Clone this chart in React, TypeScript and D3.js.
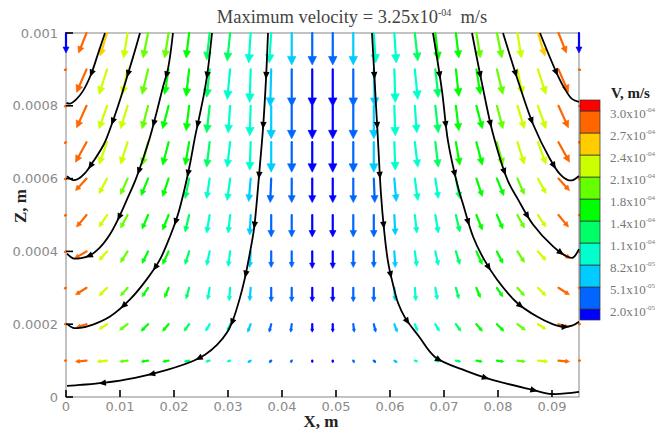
import React from 'react';
import * as d3 from 'd3';

// ---------- data ----------
const xTicks = [0, 0.01, 0.02, 0.03, 0.04, 0.05, 0.06, 0.07, 0.08, 0.09];
const xTickLabels = ['0', '0.01', '0.02', '0.03', '0.04', '0.05', '0.06', '0.07', '0.08', '0.09'];
const zTicks = [0, 0.0002, 0.0004, 0.0006, 0.0008, 0.001];
const zTickLabels = ['0', '0.0002', '0.0004', '0.0006', '0.0008', '0.001'];

const gridX = [0, 0.0038, 0.0076, 0.0114, 0.0152, 0.019, 0.0228, 0.0266, 0.0304, 0.0342, 0.038, 0.0418, 0.0456,
  0.0494, 0.0532, 0.057, 0.0608, 0.0646, 0.0684, 0.0722, 0.076, 0.0798, 0.0836, 0.0874, 0.0912, 0.095];
const gridZ = [0.001, 0.0009, 0.0008, 0.0007, 0.0006, 0.0005, 0.0004, 0.0003, 0.0002, 0.0001];

// arrow components (display units), one row per gridZ
const arrowU = [
  [0, -8, -7, -4, -5, -4, -3, -3, -3, -2, -2, 0, 0, 0, 0, 2, 2, 3, 3, 3, 4, 5, 4, 7, 8, 0],
  [-2, -10, -8, -5, -6, -4, -3, -3, -3, -1, -1, 0, 0, 0, 0, 1, 1, 3, 3, 3, 4, 6, 5, 8, 10, 2],
  [-2, -10, -8, -7, -6, -6, -3, -3, -2, -1, 0, 0, 0, 0, 0, 0, 1, 2, 3, 3, 6, 6, 7, 8, 10, 2],
  [-2, -11, -8, -7, -6, -6, -4, -3, -3, -1, 0, 0, 0, 0, 0, 0, 1, 3, 3, 4, 6, 6, 7, 8, 11, 2],
  [-2, -11, -8, -7, -7, -6, -4, -3, -3, -2, -1, 0, 0, 0, 0, 1, 2, 3, 3, 4, 6, 7, 7, 8, 11, 2],
  [-2, -10, -8, -7, -6, -6, -4, -3, -2, -1, 0, 0, 0, 0, 0, 0, 1, 2, 3, 4, 6, 6, 7, 8, 10, 2],
  [-2, -12, -8, -7, -6, -6, -4, -3, -2, -1, 0, 0, 0, 0, 0, 0, 1, 2, 3, 4, 6, 6, 7, 8, 12, 2],
  [-2, -11, -8, -7, -6, -4, -3, -2, -1, -1, 0, 0, 0, 0, 0, 0, 1, 1, 2, 3, 4, 6, 7, 8, 11, 2],
  [-2, -10, -8, -8, -7, -6, -5, -4, -3, -3, -2, -1, 0, 0, 1, 2, 3, 3, 4, 5, 6, 7, 8, 8, 10, 2],
  [-2, -11, -10, -8, -7, -6, -5, -4, -3, -3, -2, -1, 0, 0, 1, 2, 3, 3, 4, 5, 6, 7, 8, 10, 11, 2],
];
const arrowW = [
  [-20, -20, -23, -25, -25, -25, -25, -27, -28, -30, -30, -32, -32, -32, -32, -30, -30, -28, -27, -25, -25, -25, -25, -23, -20, -20],
  [-1, -23, -25, -25, -25, -25, -27, -28, -30, -33, -37, -37, -37, -37, -37, -37, -33, -30, -28, -27, -25, -25, -25, -25, -23, -1],
  [-1, -22, -23, -23, -23, -23, -25, -27, -27, -30, -33, -33, -33, -33, -33, -33, -30, -27, -27, -25, -23, -23, -23, -23, -22, -1],
  [-1, -20, -22, -22, -23, -23, -23, -25, -25, -28, -30, -30, -30, -30, -30, -30, -28, -25, -25, -23, -23, -23, -22, -22, -20, -1],
  [-1, -12, -15, -16, -17, -18, -20, -20, -22, -23, -24, -24, -24, -24, -24, -24, -23, -22, -20, -20, -18, -17, -16, -15, -12, -1],
  [-1, -12, -12, -13, -14, -15, -17, -18, -18, -20, -22, -22, -22, -22, -22, -22, -20, -18, -18, -17, -15, -14, -13, -12, -12, -1],
  [-1, -7, -9, -11, -12, -13, -13, -14, -15, -16, -16, -16, -17, -17, -16, -16, -16, -15, -14, -13, -13, -12, -11, -9, -7, -1],
  [-1, -7, -8, -8, -9, -10, -11, -12, -13, -13, -14, -14, -14, -14, -14, -14, -13, -13, -12, -11, -10, -9, -8, -8, -7, -1],
  [0, -3, -5, -6, -7, -7, -7, -7, -7, -8, -8, -8, -8, -8, -8, -8, -8, -7, -7, -7, -7, -7, -6, -5, -3, 0],
  [0, -1, -1, -1, -1, -1, -1, -1, -1, -2, -2, -2, -2, -2, -2, -2, -2, -1, -1, -1, -1, -1, -1, -1, -1, 0],
];
// colour level (index into levelColors) per arrow
const arrowLevel = [
  [0, 9, 8, 7, 6, 6, 5, 4, 4, 3, 3, 2, 1, 1, 2, 3, 3, 4, 5, 5, 6, 6, 7, 8, 9, 0],
  [9, 9, 7, 7, 6, 5, 5, 4, 3, 3, 2, 1, 0, 0, 1, 2, 3, 3, 4, 5, 5, 6, 7, 7, 9, 9],
  [9, 9, 7, 7, 6, 5, 5, 4, 3, 3, 2, 1, 0, 0, 1, 2, 3, 3, 4, 5, 5, 6, 7, 7, 9, 9],
  [9, 9, 7, 7, 6, 5, 5, 4, 3, 3, 2, 1, 0, 0, 1, 2, 3, 3, 4, 5, 5, 6, 7, 7, 9, 9],
  [9, 9, 7, 6, 5, 5, 4, 3, 3, 2, 1, 1, 0, 0, 1, 1, 2, 3, 3, 4, 5, 5, 6, 7, 9, 9],
  [9, 9, 7, 6, 5, 5, 4, 3, 3, 2, 1, 1, 0, 0, 1, 1, 2, 3, 3, 4, 5, 5, 6, 7, 9, 9],
  [9, 9, 7, 6, 5, 5, 4, 3, 3, 2, 1, 1, 0, 0, 1, 1, 2, 3, 3, 4, 5, 5, 6, 7, 9, 9],
  [9, 9, 7, 6, 5, 5, 4, 3, 3, 2, 1, 1, 0, 0, 1, 1, 2, 3, 3, 4, 5, 5, 6, 7, 9, 9],
  [9, 9, 7, 6, 5, 5, 4, 3, 3, 2, 1, 1, 0, 0, 1, 1, 2, 3, 3, 4, 5, 5, 6, 7, 9, 9],
  [9, 9, 7, 6, 5, 5, 4, 3, 3, 2, 1, 1, 0, 0, 1, 1, 2, 3, 3, 4, 5, 5, 6, 7, 9, 9],
];
const levelColors = ['#0000ff', '#0066ff', '#00ccff', '#00ffcc', '#00ff66', '#00ff00', '#66ff00', '#ccff00', '#ffcc00', '#ff6600', '#ff0000'];

const legendMantissa = ['2.0', '5.1', '8.2', '1.1', '1.4', '1.8', '2.1', '2.4', '2.7', '3.0'];
const legendExponent = ['-05', '-05', '-05', '-04', '-04', '-04', '-04', '-04', '-04', '-04'];

// streamlines [x, z], listed in flow direction
const streamS1 = [[0.00722, 0.001], [0.00593, 0.000943], [0.00463, 0.000886], [0.00315, 0.000841], [0.00185, 0.000817], [0.00074, 0.000806], [0.0001, 0.000808]];
const streamS2 = [[0.0137, 0.001], [0.0126, 0.000943], [0.01148, 0.000888], [0.01019, 0.000825], [0.0087, 0.000759], [0.00704, 0.000695], [0.005, 0.000646], [0.00352, 0.000615], [0.00222, 0.000599], [0.0013, 0.000596], [0.00019, 0.000607]];
const streamS3 = [[0.01981, 0.001], [0.01889, 0.000902], [0.01796, 0.000852], [0.01685, 0.000786], [0.01556, 0.000714], [0.01426, 0.000654], [0.01278, 0.000593], [0.0113, 0.000543], [0.00963, 0.000488], [0.00815, 0.000447], [0.0063, 0.000411], [0.00444, 0.000389], [0.00259, 0.000381], [0.0013, 0.000381], [0.00019, 0.000394]];
const streamS4 = [[0.02704, 0.001], [0.0263, 0.000902], [0.02574, 0.000847], [0.02481, 0.000778], [0.02389, 0.000714], [0.02296, 0.00064], [0.02204, 0.000577], [0.02074, 0.000502], [0.01926, 0.000441], [0.01741, 0.000378], [0.01519, 0.000328], [0.01185, 0.000268], [0.00815, 0.000221], [0.005, 0.000199], [0.00259, 0.00019], [0.0013, 0.00019], [0.00019, 0.000201]];
const streamS5 = [[0.03741, 0.001], [0.03704, 0.000874], [0.03648, 0.000737], [0.03593, 0.00064], [0.03537, 0.000543], [0.03481, 0.000461], [0.03407, 0.000397], [0.03315, 0.000328], [0.03222, 0.000273], [0.03093, 0.000212], [0.02981, 0.000177], [0.02796, 0.000143], [0.02574, 0.000116], [0.02352, 0.000099], [0.0187, 0.0000745], [0.01278, 0.0000524], [0.00685, 0.0000386], [0.00259, 0.0000331], [0.00019, 0.0000303]];
const streamR5 = [[0.05667, 0.001], [0.05722, 0.000852], [0.05778, 0.000703], [0.05833, 0.000557], [0.05889, 0.000461], [0.05963, 0.000372], [0.06056, 0.000309], [0.06148, 0.000259], [0.06278, 0.000218], [0.06537, 0.000166], [0.06833, 0.00011], [0.07407, 0.0000717], [0.07833, 0.0000497], [0.08648, 0.0000193], [0.09, 0.0000083], [0.095, 0.0000138]];
const streamR4 = [[0.06796, 0.001], [0.06963, 0.000841], [0.07074, 0.000703], [0.07259, 0.000577], [0.07352, 0.00053], [0.07537, 0.000441], [0.07741, 0.000378], [0.07981, 0.000323], [0.08352, 0.000259], [0.08722, 0.000221], [0.09, 0.000201], [0.09204, 0.000193], [0.0937, 0.000196], [0.095, 0.000207]];
const streamR3 = [[0.07519, 0.001], [0.07704, 0.000861], [0.07907, 0.000723], [0.08185, 0.000593], [0.0837, 0.000543], [0.08648, 0.000474], [0.09019, 0.000414], [0.09278, 0.000386], [0.09389, 0.000383], [0.095, 0.000406]];
const streamR2 = [[0.08093, 0.001], [0.0837, 0.000869], [0.08648, 0.00075], [0.08963, 0.000654], [0.09148, 0.000612], [0.09296, 0.000596], [0.09389, 0.000596], [0.095, 0.000607]];
const streamR1 = [[0.08778, 0.001], [0.09093, 0.000888], [0.09259, 0.000841], [0.0937, 0.000819], [0.095, 0.000811]];
const streamlines = [streamS1, streamS2, streamS3, streamS4, streamS5, streamR5, streamR4, streamR3, streamR2, streamR1];

export default function App() {
  const ref = React.useRef<SVGSVGElement>(null);

  React.useEffect(() => {
    const svg = d3.select(ref.current);
    svg.selectAll('*').remove();

    const left = 66, right = 579, top = 33, bottom = 397;
    const x = d3.scaleLinear().domain([0, 0.095]).range([left, right]);
    const z = d3.scaleLinear().domain([0, 0.001]).range([bottom, top]);
    const vec = d3.scaleLinear().domain([0, 1]).range([0, 1]);

    svg.append('rect').attr('width', 665).attr('height', 432).attr('fill', '#fff');

    // frame
    svg.append('rect')
      .attr('x', left).attr('y', top).attr('width', right - left).attr('height', bottom - top)
      .attr('fill', 'none').attr('stroke', '#9a9a9a').attr('stroke-width', 1.2);

    // vector field
    const ag = svg.append('g');
    gridZ.forEach((gz, r) => {
      gridX.forEach((gx, c) => {
        const tx = x(gx), ty = z(gz);
        const dx = vec(arrowU[r][c]), dy = -vec(arrowW[r][c]);
        const L = Math.hypot(dx, dy);
        const col = levelColors[arrowLevel[r][c]];
        if (L < 0.5) return;
        const ux = dx / L, uy = dy / L;
        const h = Math.min(8.5, 1.2 + 0.24 * L);
        const hw = h * 0.5;
        const ex = tx + dx, ey = ty + dy;
        const bx = ex - ux * h, by = ey - uy * h;
        ag.append('line')
          .attr('x1', tx).attr('y1', ty).attr('x2', bx + ux * 0.5).attr('y2', by + uy * 0.5)
          .attr('stroke', col).attr('stroke-width', 2.2).attr('stroke-linecap', 'round');
        ag.append('path')
          .attr('d', `M${ex},${ey}L${bx - uy * hw},${by + ux * hw}L${bx + uy * hw},${by - ux * hw}Z`)
          .attr('fill', col).attr('stroke', col).attr('stroke-width', 0.6);
      });
    });

    // streamlines
    const line = d3.line<number[]>().x(d => x(d[0])).y(d => z(d[1])).curve(d3.curveCatmullRom.alpha(0.5));
    const sg = svg.append('g');
    streamlines.forEach(s => {
      const p = sg.append('path').attr('d', line(s) as string)
        .attr('fill', 'none').attr('stroke', '#000').attr('stroke-width', 1.8);
      const node = p.node() as SVGPathElement;
      const total = node.getTotalLength();
      for (let d = 42; d < total - 15; d += 50) {
        const a = node.getPointAtLength(d);
        const b = node.getPointAtLength(d + 1);
        let ux = b.x - a.x, uy = b.y - a.y;
        const n = Math.hypot(ux, uy) || 1;
        ux /= n; uy /= n;
        const tipX = a.x + ux * 4.5, tipY = a.y + uy * 4.5;
        const bx = a.x - ux * 3, by = a.y - uy * 3;
        sg.append('path')
          .attr('d', `M${tipX},${tipY}L${bx - uy * 3.2},${by + ux * 3.2}L${bx + uy * 3.2},${by - ux * 3.2}Z`)
          .attr('fill', '#000');
      }
    });

    // ticks
    const tg = svg.append('g');
    xTicks.forEach((t, i) => {
      tg.append('line').attr('x1', x(t)).attr('x2', x(t)).attr('y1', bottom).attr('y2', bottom - 7)
        .attr('stroke', '#000').attr('stroke-width', 1.6);
      tg.append('text').attr('x', x(t)).attr('y', bottom + 14).attr('text-anchor', 'middle')
        .attr('font-family', 'DejaVu Sans').attr('font-size', 13).attr('fill', '#8a8a8a')
        .text(xTickLabels[i]);
    });
    zTicks.forEach((t, i) => {
      tg.append('line').attr('x1', left).attr('x2', left + 7).attr('y1', z(t)).attr('y2', z(t))
        .attr('stroke', '#000').attr('stroke-width', 1.6);
      tg.append('text').attr('x', left - 8).attr('y', z(t)).attr('dy', '0.35em').attr('text-anchor', 'end')
        .attr('font-family', 'DejaVu Sans').attr('font-size', 13).attr('fill', '#8a8a8a')
        .text(zTickLabels[i]);
    });

    // axis titles
    svg.append('text').attr('x', 321).attr('y', 427).attr('text-anchor', 'middle')
      .attr('font-family', 'Liberation Serif').attr('font-weight', 'bold').attr('font-size', 17).attr('fill', '#222')
      .text('X, m');
    svg.append('text').attr('transform', 'translate(26,206) rotate(-90)').attr('text-anchor', 'middle')
      .attr('font-family', 'Liberation Serif').attr('font-weight', 'bold').attr('font-size', 17).attr('fill', '#222')
      .text('Z, m');

    // title
    const title = svg.append('text').attr('x', 352).attr('y', 23).attr('text-anchor', 'middle')
      .attr('font-family', 'Liberation Serif').attr('font-size', 18.5).attr('fill', '#444');
    title.append('tspan').text('Maximum velocity = 3.25x10');
    title.append('tspan').attr('dy', -7).attr('font-size', 10).text('-04');
    title.append('tspan').attr('dy', 7).text('\u00a0 m/s');

    // legend colour bar
    const ly = d3.scaleLinear().domain([-0.5, 9.5]).range([320, 100]);
    const lg = svg.append('g');
    levelColors.forEach((c, k) => {
      const y0 = k === 0 ? 320 : ly(k - 1);
      const y1 = k === levelColors.length - 1 ? 100 : ly(k);
      lg.append('rect').attr('x', 580).attr('y', y1).attr('width', 20).attr('height', y0 - y1)
        .attr('fill', c).attr('stroke', '#333').attr('stroke-width', 0.7);
    });
    legendMantissa.forEach((m, k) => {
      const t = lg.append('text').attr('x', 610).attr('y', ly(k) + 7)
        .attr('font-family', 'Liberation Serif').attr('font-size', 13).attr('fill', '#777');
      t.append('tspan').text(m + 'x10');
      t.append('tspan').attr('dy', -6).attr('font-size', 7).text(legendExponent[k]);
    });
    lg.append('text').attr('x', 611).attr('y', 98)
      .attr('font-family', 'Liberation Serif').attr('font-weight', 'bold').attr('font-size', 15).attr('fill', '#222')
      .text('V, m/s');
  }, []);

  return <svg ref={ref} width={665} height={432} style={{ position: 'absolute', left: 0, top: 0 }} />;
}
